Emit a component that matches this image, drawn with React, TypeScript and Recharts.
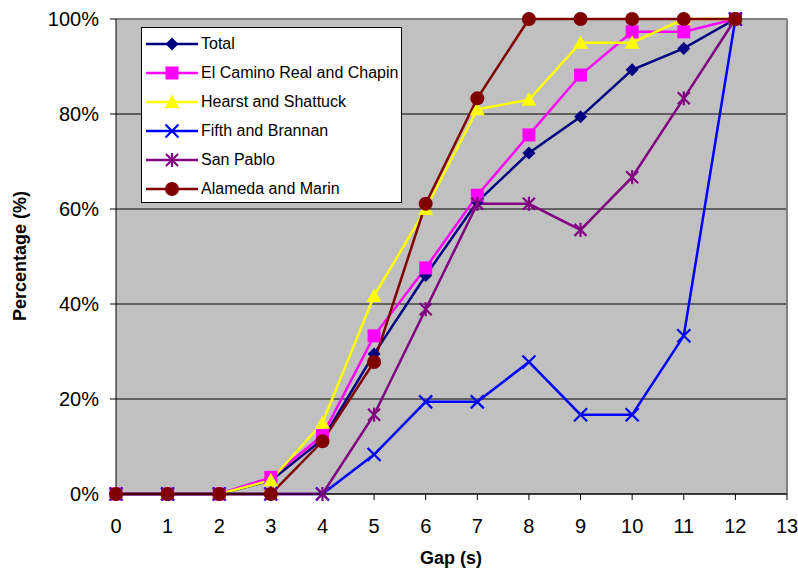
import React from 'react';
import { LineChart, Line, XAxis, YAxis, CartesianGrid, Legend, ReferenceLine, Label } from 'recharts';

const gaps = [0, 1, 2, 3, 4, 5, 6, 7, 8, 9, 10, 11, 12];
const total = [0, 0, 0, 2.8, 11.5, 29.5, 46, 61.5, 71.8, 79.4, 89.3, 93.8, 100];
const elCamino = [0, 0, 0, 3.5, 12.3, 33.3, 47.6, 62.9, 75.6, 88.2, 97.3, 97.3, 100];
const hearst = [0, 0, 0, 2.9, 15, 41.7, 60, 81, 83, 95, 95, 100, 100];
const fifth = [0, 0, 0, 0, 0, 8.3, 19.4, 19.4, 27.8, 16.7, 16.7, 33.3, 100];
const sanPablo = [0, 0, 0, 0, 0, 16.7, 38.9, 61.1, 61.1, 55.6, 66.7, 83.3, 100];
const alameda = [0, 0, 0, 0, 11.1, 27.8, 61.1, 83.3, 100, 100, 100, 100, 100];
const xTicks = [0, 1, 2, 3, 4, 5, 6, 7, 8, 9, 10, 11, 12, 13];
const yTicks = [0, 20, 40, 60, 80, 100];

const seriesDefs = [
  { key: 'total', name: 'Total', color: '#000080', shape: 'diamond', values: total },
  { key: 'elCamino', name: 'El Camino Real and Chapin', color: '#FF00FF', shape: 'square', values: elCamino },
  { key: 'hearst', name: 'Hearst and Shattuck', color: '#FFFF00', shape: 'triangle', values: hearst },
  { key: 'fifth', name: 'Fifth and Brannan', color: '#0000FF', shape: 'x', values: fifth },
  { key: 'sanPablo', name: 'San Pablo', color: '#800080', shape: 'star', values: sanPablo },
  { key: 'alameda', name: 'Alameda and Marin', color: '#800000', shape: 'circle', values: alameda },
];

const data = gaps.map((g, i) => {
  const row: any = { gap: g };
  seriesDefs.forEach((s) => { row[s.key] = s.values[i]; });
  return row;
});

function Marker({ cx, cy, shape, color }: { cx: number; cy: number; shape: string; color: string }) {
  if (cx == null || cy == null) return null;
  switch (shape) {
    case 'diamond': {
      const r = 6.5;
      return <polygon points={`${cx},${cy - r} ${cx + r},${cy} ${cx},${cy + r} ${cx - r},${cy}`} fill={color} />;
    }
    case 'square': {
      const r = 6.5;
      return <rect x={cx - r} y={cy - r} width={2 * r} height={2 * r} fill={color} />;
    }
    case 'triangle': {
      const r = 7.5;
      return <polygon points={`${cx},${cy - r} ${cx + r},${cy + r * 0.8} ${cx - r},${cy + r * 0.8}`} fill={color} />;
    }
    case 'x': {
      const r = 6.5;
      return (
        <g stroke={color} strokeWidth={2.2}>
          <line x1={cx - r} y1={cy - r} x2={cx + r} y2={cy + r} />
          <line x1={cx - r} y1={cy + r} x2={cx + r} y2={cy - r} />
        </g>
      );
    }
    case 'star': {
      const r = 6;
      return (
        <g stroke={color} strokeWidth={2.2}>
          <line x1={cx - r} y1={cy - r} x2={cx + r} y2={cy + r} />
          <line x1={cx - r} y1={cy + r} x2={cx + r} y2={cy - r} />
          <line x1={cx} y1={cy - r - 1} x2={cx} y2={cy + r + 1} />
        </g>
      );
    }
    default:
      return <circle cx={cx} cy={cy} r={7} fill={color} />;
  }
}

function LegendContent() {
  return (
    <div
      style={{
        background: '#fff',
        border: '1px solid #000',
        width: 261,
        height: 176,
        boxSizing: 'border-box',
        paddingTop: 1,
        fontFamily: 'Liberation Sans, Arial, sans-serif',
        fontSize: 16,
        color: '#000',
      }}
    >
      {seriesDefs.map((s) => (
        <div key={s.key} style={{ display: 'flex', alignItems: 'center', height: 29 }}>
          <svg width={59} height={20} style={{ flex: 'none' }}>
            <line x1={4} y1={10} x2={56} y2={10} stroke={s.color} strokeWidth={2.5} />
            <Marker cx={30} cy={10} shape={s.shape} color={s.color} />
          </svg>
          <span style={{ whiteSpace: 'nowrap' }}>{s.name}</span>
        </div>
      ))}
    </div>
  );
}

export default function App() {
  const font = 'Liberation Sans, Arial, sans-serif';
  return (
    <div style={{ position: 'absolute', left: 0, top: 0, width: 798, height: 572, background: '#fff' }}>
      <LineChart width={798} height={572} data={data} margin={{ top: 19, right: 11, bottom: 0, left: 0 }}>
        <CartesianGrid vertical={false} horizontal fill="#C0C0C0" stroke="#000" strokeWidth={1} fillOpacity={1} />
        <XAxis
          dataKey="gap"
          type="number"
          domain={[0, 13]}
          ticks={xTicks}
          interval={0}
          height={78}
          tickSize={6}
          tickMargin={19}
          axisLine={{ stroke: '#000', strokeWidth: 1 }}
          tickLine={{ stroke: '#000' }}
          tick={{ fill: '#000', fontSize: 20, fontFamily: font }}
        >
          <Label
            content={() => (
              <text x={451} y={564} textAnchor="middle" fontFamily={font} fontSize={18} fontWeight="bold" fill="#000">
                Gap (s)
              </text>
            )}
          />
        </XAxis>
        <YAxis
          type="number"
          domain={[0, 100]}
          ticks={yTicks}
          interval={0}
          width={116}
          tickSize={6}
          tickMargin={11}
          tickFormatter={(v: number) => `${v}%`}
          axisLine={{ stroke: '#000', strokeWidth: 1 }}
          tickLine={{ stroke: '#000' }}
          tick={{ fill: '#000', fontSize: 20, fontFamily: font }}
        >
          <Label
            content={() => (
              <text
                x={26}
                y={256}
                transform="rotate(-90 26 256)"
                textAnchor="middle"
                fontFamily={font}
                fontSize={18}
                fontWeight="bold"
                fill="#000"
              >
                Percentage (%)
              </text>
            )}
          />
        </YAxis>
        <ReferenceLine y={100} stroke="#808080" strokeWidth={2} ifOverflow="extendDomain" />
        <ReferenceLine x={13} stroke="#808080" strokeWidth={2} />
        {seriesDefs.map((s) => (
          <Line
            key={s.key}
            dataKey={s.key}
            name={s.name}
            type="linear"
            stroke={s.color}
            strokeWidth={2.5}
            isAnimationActive={false}
            dot={(p: any) => <Marker key={`${s.key}-${p.index}`} cx={p.cx} cy={p.cy} shape={s.shape} color={s.color} />}
            activeDot={false}
          />
        ))}
        <Legend
          layout="vertical"
          verticalAlign="middle"
          align="center"
          wrapperStyle={{ position: 'absolute', left: 141, top: 27, width: 261, height: 176 }}
          content={() => <LegendContent />}
        />
      </LineChart>
    </div>
  );
}
